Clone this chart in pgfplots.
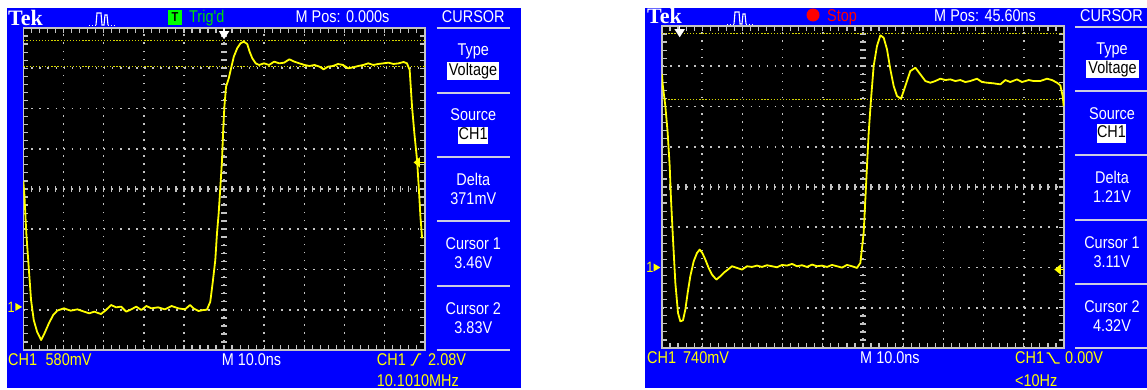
\documentclass[border=0pt]{standalone}
\usepackage{pgfplots}
\pgfplotsset{compat=1.18}
\usepackage{fontspec}
\setmainfont{Liberation Sans}
\newfontfamily\osc[FakeStretch=0.85]{Liberation Sans}
\newfontfamily\tekf{Liberation Serif}
\definecolor{scopeblue}{RGB}{0,0,255}
\definecolor{trace}{RGB}{255,255,0}
\definecolor{curs}{RGB}{215,215,0}
\definecolor{gridc}{RGB}{195,195,195}
\definecolor{trigg}{RGB}{0,225,0}
\definecolor{tbox}{RGB}{0,255,0}
\definecolor{menuline}{RGB}{205,205,225}
\newcommand\tf{\osc\fontsize{17}{17}\selectfont}
\pgfplotsset{scopeaxis/.style={
  scale only axis, height=322pt,
  xmin=0,xmax=10,ymin=-4,ymax=4,
  axis background/.style={fill=black},
  xtick={1,...,9}, ytick={-3,...,3}, xticklabels={}, yticklabels={},
  minor xtick={0,0.2,...,10}, minor ytick={-4,-3.8,...,4},
  tick align=inside, major tick length=0pt, minor tick length=5pt,
  minor tick style={gridc, line width=1.2pt},
  major tick style={draw=none},
  grid=major,
  major grid style={gridc, line width=1.6pt, dash pattern=on 1.6pt off 6.45pt},
  axis line style={gridc, line width=1.5pt},
  clip mode=individual,
}}
\begin{document}
\begin{tikzpicture}[x=1pt,y=1pt]
\useasboundingbox (0,0) rectangle (1147,390);
\fill[white] (0,0) rectangle (1147,390);
\fill[scopeblue] (7,2) rectangle (521,382);
\fill[scopeblue] (645,2) rectangle (1147,382);

% ================= LEFT PANEL =================
\begin{axis}[scopeaxis, width=401.5pt, at={(23.3pt,40pt)}, anchor=south west]
\pgfplotsinvokeforeach{0.2,0.4,...,9.8}{\draw[gridc,line width=1.3pt] (axis cs:#1,-0.075) -- (axis cs:#1,0.075);}
\pgfplotsinvokeforeach{-3.8,-3.6,...,3.8}{\draw[gridc,line width=1.6pt] (axis cs:4.935,#1) -- (axis cs:5.065,#1);}
\addplot[curs, line width=1.3pt, dash pattern=on 1.3pt off 1.8pt] coordinates {(0,3.685)(10,3.685)};
\addplot[curs, line width=1.3pt, dash pattern=on 1.3pt off 1.8pt] coordinates {(0,3.039)(10,3.039)};
\addplot[trace, line width=1.8pt, line join=round] coordinates {
(0,0.2)(0.025,-0.108)(0.075,-1.101)(0.134,-1.93)(0.193,-2.758)(0.26,-3.255)(0.343,-3.545)(0.444,-3.752)(0.528,-3.586)(0.637,-3.338)(0.745,-3.13)(0.846,-3.023)(0.888,-3.006)(1.013,-2.965)(1.181,-3.023)(1.348,-2.99)(1.516,-3.048)(1.642,-3.089)(1.767,-3.048)(1.935,-3.106)(2.06,-3.006)(2.186,-2.882)(2.312,-2.94)(2.437,-2.923)(2.563,-3.048)(2.688,-2.99)(2.814,-2.923)(2.94,-3.006)(3.065,-2.907)(3.191,-2.965)(3.358,-2.94)(3.526,-2.99)(3.693,-2.907)(3.861,-2.965)(4.028,-2.99)(4.154,-2.882)(4.238,-2.965)(4.363,-3.031)(4.489,-3.006)(4.573,-3.0)(4.657,-2.8)(4.715,-2.344)(4.782,-1.764)(4.824,-1.101)(4.866,-0.604)(4.908,0.058)(4.95,0.721)(4.975,1.383)(5.008,2.046)(5.05,2.542)(5.117,2.749)(5.184,3.039)(5.243,3.288)(5.327,3.495)(5.41,3.619)(5.494,3.66)(5.578,3.602)(5.637,3.412)(5.704,3.246)(5.787,3.122)(5.871,3.081)(5.997,3.122)(6.122,3.081)(6.248,3.164)(6.374,3.122)(6.499,3.139)(6.625,3.222)(6.75,3.164)(6.876,3.122)(7.002,3.081)(7.127,3.056)(7.253,3.081)(7.379,3.039)(7.479,2.973)(7.588,3.039)(7.714,3.056)(7.839,3.106)(7.965,3.081)(8.09,2.998)(8.216,3.023)(8.342,3.056)(8.467,3.081)(8.593,3.122)(8.719,3.081)(8.844,3.106)(8.97,3.122)(9.095,3.139)(9.221,3.106)(9.347,3.122)(9.472,3.155)(9.556,3.122)(9.623,2.957)(9.682,2.046)(9.74,1.383)(9.807,0.72)(9.849,0.058)(9.891,-0.687)(9.933,-1.226)};
% markers
\node[text=trace, font=\osc\fontsize{15}{15}\selectfont, inner sep=0] at (axis cs:-0.30,-2.93) {1};
\fill[trace] (axis cs:-0.2,-2.83) -- (axis cs:-0.2,-3.03) -- (axis cs:-0.03,-2.93) -- cycle;
\fill[white] (axis cs:4.87,3.92) -- (axis cs:5.13,3.92) -- (axis cs:5.0,3.72) -- cycle;
\draw[white, line width=1.5pt] (axis cs:5,4) -- (axis cs:5,3.85);
\fill[trace] (axis cs:9.72,0.66) -- (axis cs:9.88,0.79) -- (axis cs:9.88,0.53) -- cycle;
\draw[trace, line width=1.5pt] (axis cs:9.85,0.66) -- (axis cs:10,0.66);
\end{axis}

% header left
\node[anchor=base west, inner sep=0, text=white, font=\tekf\bfseries\fontsize{22}{22}\selectfont] at (8,364) {Tek};
\draw[white, line width=0.9pt, dotted] (89,365) -- (96,365);
\draw[white, line width=1.1pt] (96,365) -- (97,377) -- (101,377) -- (102,365) -- (104,365) -- (105,375) -- (107,375) -- (108,365);
\draw[white, line width=0.9pt, dotted] (108,365) -- (116,365);
\fill[tbox] (168,365) rectangle (182,380);
\node[text=black, font=\osc\bfseries\fontsize{13}{13}\selectfont, inner sep=0] at (175,372.5) {T};
\node[anchor=base west, inner sep=0, text=trigg, font=\tf] at (189,367.7) {Trig'd};
\node[anchor=base west, inner sep=0, text=white, font=\tf] at (295.5,367.3) {M Pos: 0.000s};
\node[anchor=base, inner sep=0, text=white, font=\tf] at (473.3,367.3) {CURSOR};
% menu left
\foreach \yy in {362,297,233,169,104,40} {\draw[menuline, line width=2pt] (436.7,\yy) -- (510,\yy);}
\node[anchor=base, inner sep=0, text=white, font=\tf] at (473.3,334) {Type};
\fill[white] (447,310) rectangle (499,328);
\node[anchor=base, inner sep=0, text=black, font=\tf] at (473,314) {Voltage};
\node[anchor=base, inner sep=0, text=white, font=\tf] at (473.3,269) {Source};
\fill[white] (458.4,246) rectangle (487.8,263);
\node[anchor=base, inner sep=0, text=black, font=\tf] at (473.1,250) {CH1};
\node[anchor=base, inner sep=0, text=white, font=\tf] at (473.3,204.3) {Delta};
\node[anchor=base, inner sep=0, text=white, font=\tf] at (473.3,185.7) {371mV};
\node[anchor=base, inner sep=0, text=white, font=\tf] at (473.3,140) {Cursor 1};
\node[anchor=base, inner sep=0, text=white, font=\tf] at (473.3,121.3) {3.46V};
\node[anchor=base, inner sep=0, text=white, font=\tf] at (473.3,75.7) {Cursor 2};
\node[anchor=base, inner sep=0, text=white, font=\tf] at (473.3,56.7) {3.83V};
% bottom left
\node[anchor=base west, inner sep=0, text=trace, font=\tf] at (8,24.3) {CH1};
\node[anchor=base west, inner sep=0, text=trace, font=\tf] at (45.5,24.3) {580mV};
\node[anchor=base west, inner sep=0, text=white, font=\tf] at (221.6,24.3) {M 10.0ns};
\node[anchor=base west, inner sep=0, text=trace, font=\tf] at (376.7,24.3) {CH1};
\draw[trace, line width=1.3pt] (410.5,25) -- (413,25) -- (418.5,36) -- (421,36);
\node[anchor=base west, inner sep=0, text=trace, font=\tf] at (428,24.3) {2.08V};
\node[anchor=base west, inner sep=0, text=trace, font=\tf] at (376.7,3.3) {10.1010MHz};

% ================= RIGHT PANEL =================
\begin{axis}[scopeaxis, width=402pt, at={(662pt,42pt)}, anchor=south west]
\pgfplotsinvokeforeach{0.2,0.4,...,9.8}{\draw[gridc,line width=1.3pt] (axis cs:#1,-0.075) -- (axis cs:#1,0.075);}
\pgfplotsinvokeforeach{-3.8,-3.6,...,3.8}{\draw[gridc,line width=1.6pt] (axis cs:4.935,#1) -- (axis cs:5.065,#1);}
\addplot[curs, line width=1.3pt, dash pattern=on 1.3pt off 1.8pt] coordinates {(0,3.818)(10,3.818)};
\addplot[curs, line width=1.3pt, dash pattern=on 1.3pt off 1.8pt] coordinates {(0,2.177)(10,2.177)};
\addplot[trace, line width=1.8pt, line join=round] coordinates {
(0.0,2.8)(0.017,2.55)(0.083,2.011)(0.141,1.347)(0.191,0.518)(0.224,-0.311)(0.274,-1.306)(0.332,-2.384)(0.398,-3.13)(0.456,-3.337)(0.522,-3.313)(0.58,-3.047)(0.638,-2.633)(0.704,-2.218)(0.788,-1.845)(0.871,-1.638)(0.937,-1.555)(1.003,-1.638)(1.078,-1.803)(1.161,-2.011)(1.244,-2.177)(1.352,-2.301)(1.451,-2.218)(1.551,-2.119)(1.658,-2.036)(1.741,-1.969)(1.866,-2.011)(1.99,-2.052)(2.115,-1.969)(2.239,-1.986)(2.363,-1.953)(2.488,-1.986)(2.612,-1.944)(2.736,-1.969)(2.861,-1.994)(2.985,-1.936)(3.109,-1.953)(3.234,-1.911)(3.358,-1.969)(3.483,-1.944)(3.607,-1.986)(3.731,-1.928)(3.856,-1.969)(3.98,-1.953)(4.104,-1.986)(4.229,-1.936)(4.353,-1.969)(4.478,-2.003)(4.602,-1.936)(4.726,-1.969)(4.851,-2.011)(4.934,-1.886)(5.016,-1.14)(5.058,-0.311)(5.099,0.518)(5.141,1.347)(5.199,2.177)(5.265,3.006)(5.348,3.503)(5.431,3.768)(5.514,3.71)(5.597,3.42)(5.68,2.923)(5.763,2.508)(5.846,2.26)(5.945,2.193)(6.053,2.508)(6.177,2.881)(6.302,2.964)(6.426,2.799)(6.551,2.633)(6.675,2.591)(6.799,2.633)(6.924,2.691)(7.048,2.657)(7.172,2.674)(7.297,2.633)(7.421,2.657)(7.545,2.608)(7.67,2.633)(7.836,2.691)(7.96,2.608)(8.085,2.591)(8.25,2.575)(8.416,2.55)(8.541,2.657)(8.665,2.608)(8.831,2.674)(8.955,2.608)(9.121,2.657)(9.245,2.633)(9.411,2.633)(9.577,2.691)(9.701,2.657)(9.826,2.591)(9.909,2.525)(9.967,2.26)(9.992,2.011)};
\node[text=trace, font=\osc\fontsize{15}{15}\selectfont, inner sep=0] at (axis cs:-0.30,-2.0) {1};
\fill[trace] (axis cs:-0.21,-1.90) -- (axis cs:-0.21,-2.10) -- (axis cs:-0.04,-2.0) -- cycle;
\fill[white] (axis cs:0.31,3.92) -- (axis cs:0.57,3.92) -- (axis cs:0.44,3.72) -- cycle;
\draw[white, line width=1.5pt] (axis cs:0.44,4) -- (axis cs:0.44,3.85);
\fill[trace] (axis cs:9.76,-2.05) -- (axis cs:9.92,-1.92) -- (axis cs:9.92,-2.18) -- cycle;
\draw[trace, line width=1.5pt] (axis cs:9.88,-2.05) -- (axis cs:10,-2.05);
\end{axis}

% header right
\node[anchor=base west, inner sep=0, text=white, font=\tekf\bfseries\fontsize{22}{22}\selectfont] at (647,366) {Tek};
\draw[white, line width=0.9pt, dotted] (727,366) -- (734,366);
\draw[white, line width=1.1pt] (734,366) -- (735,378) -- (739,378) -- (740,366) -- (742,366) -- (743,376) -- (745,376) -- (746,366);
\draw[white, line width=0.9pt, dotted] (746,366) -- (754,366);
\fill[red] (813,375) circle (6.5);
\node[anchor=base west, inner sep=0, text=red, font=\tf] at (827,368.3) {Stop};
\node[anchor=base west, inner sep=0, text=white, font=\tf] at (934,368.3) {M Pos: 45.60ns};
\node[anchor=base, inner sep=0, text=white, font=\tf] at (1111.5,368.3) {CURSOR};
\foreach \yy in {363,299,235,170,106,42} {\draw[menuline, line width=2pt] (1075,\yy) -- (1147,\yy);}
\node[anchor=base, inner sep=0, text=white, font=\tf] at (1112,335) {Type};
\fill[white] (1086,312) rectangle (1139,330);
\node[anchor=base, inner sep=0, text=black, font=\tf] at (1112.5,316) {Voltage};
\node[anchor=base, inner sep=0, text=white, font=\tf] at (1112,270.7) {Source};
\fill[white] (1097,247) rectangle (1126,266);
\node[anchor=base, inner sep=0, text=black, font=\tf] at (1111.5,252) {CH1};
\node[anchor=base, inner sep=0, text=white, font=\tf] at (1112,206) {Delta};
\node[anchor=base, inner sep=0, text=white, font=\tf] at (1112,187.3) {1.21V};
\node[anchor=base, inner sep=0, text=white, font=\tf] at (1112,141.7) {Cursor 1};
\node[anchor=base, inner sep=0, text=white, font=\tf] at (1112,122.3) {3.11V};
\node[anchor=base, inner sep=0, text=white, font=\tf] at (1112,77.3) {Cursor 2};
\node[anchor=base, inner sep=0, text=white, font=\tf] at (1112,58.3) {4.32V};
% bottom right
\node[anchor=base west, inner sep=0, text=trace, font=\tf] at (647,26) {CH1};
\node[anchor=base west, inner sep=0, text=trace, font=\tf] at (683,26) {740mV};
\node[anchor=base west, inner sep=0, text=white, font=\tf] at (860,26) {M 10.0ns};
\node[anchor=base west, inner sep=0, text=trace, font=\tf] at (1015,26) {CH1};
\draw[trace, line width=1.3pt] (1046.5,37) -- (1049,37) -- (1055,27) -- (1059.5,27);
\node[anchor=base west, inner sep=0, text=trace, font=\tf] at (1065,26) {0.00V};
\node[anchor=base west, inner sep=0, text=trace, font=\tf] at (1015,3.3) {<10Hz};
\end{tikzpicture}
\end{document}
